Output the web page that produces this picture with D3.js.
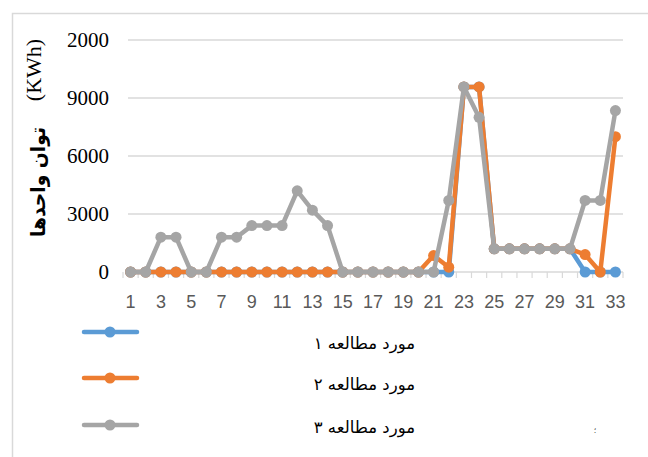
<!DOCTYPE html>
<html>
<head>
<meta charset="utf-8">
<title>Chart</title>
<style>
  body { margin: 0; background: #fff; }
  svg { display: block; }
  .serif { font-family: "Liberation Serif", "DejaVu Serif", "Times New Roman", serif; }
</style>
</head>
<body>
<svg id="chart" width="648" height="457"></svg>
<script src="https://cdn.jsdelivr.net/npm/d3@7"></script>
<script>
// categories (days 1..33)
var days = [1,2,3,4,5,6,7,8,9,10,11,12,13,14,15,16,17,18,19,20,21,22,23,24,25,26,27,28,29,30,31,32,33];

// series values
var case1 = [0,0,0,0,0,0,0,0,0,0,0,0,0,0,0,0,0,0,0,0,0,0,9570,9570,1200,1200,1200,1200,1200,1200,0,0,0];
var case2 = [0,0,0,0,0,0,0,0,0,0,0,0,0,0,0,0,0,0,0,0,850,250,9570,9570,1200,1200,1200,1200,1200,1200,900,0,7000];
var case3 = [0,0,1800,1800,0,0,1800,1800,2400,2400,2400,4200,3200,2400,0,0,0,0,0,0,0,3700,9570,8000,1200,1200,1200,1200,1200,1200,3700,3700,8350];

var seriesNames = ["مورد مطالعه ۱", "مورد مطالعه ۲", "مورد مطالعه ۳"];
var seriesColors = ["#5b9bd5", "#ed7d31", "#a5a5a5"];

var yTicks = [0, 3000, 6000, 9000, 12000];
var yTickLabels = ["0", "3000", "6000", "9000", "2000"];

var svg = d3.select("#chart");

// outer frame
svg.append("rect")
  .attr("x", 12.5).attr("y", 13.5)
  .attr("width", 700).attr("height", 500)
  .attr("fill", "none")
  .attr("stroke", "#d9d9d9")
  .attr("stroke-width", 1.5);

var x = d3.scaleBand().domain(days).range([123, 623]);
var y = d3.scaleLinear().domain([0, 12000]).range([272, 40]);

// gridlines
svg.append("g").selectAll("line")
  .data(yTicks)
  .enter().append("line")
  .attr("x1", 128).attr("x2", 623)
  .attr("y1", function (d) { return y(d) })
  .attr("y2", function (d) { return y(d) })
  .attr("stroke", "#d9d9d9")
  .attr("stroke-width", 1.5);

// x axis with category ticks
var xAxis = d3.axisBottom(x)
  .tickSize(0)
  .tickFormat(function (d) { return d % 2 === 1 ? d : "" });
var gx = svg.append("g").attr("transform", "translate(0,272)").call(xAxis);
gx.select(".domain").remove();
gx.selectAll("text")
  .attr("y", 36)
  .attr("dy", 0)
  .attr("fill", "#595959")
  .style("font-family", "'Liberation Sans', Arial, sans-serif")
  .style("font-size", "18px");

svg.append("g").selectAll("line")
  .data(d3.range(days.length + 1))
  .enter().append("line")
  .attr("x1", function (i) { return x.range()[0] + i * x.bandwidth() })
  .attr("x2", function (i) { return x.range()[0] + i * x.bandwidth() })
  .attr("y1", 272).attr("y2", 278)
  .attr("stroke", "#d9d9d9")
  .attr("stroke-width", 1.2);

// y tick labels
svg.append("g").selectAll("text")
  .data(yTicks)
  .enter().append("text")
  .attr("class", "serif")
  .attr("x", 109)
  .attr("y", function (d) { return y(d) + 7 })
  .attr("text-anchor", "end")
  .attr("fill", "#000")
  .attr("font-size", 21)
  .text(function (d, i) { return yTickLabels[i] });

// y axis title, two parts as in the original
svg.append("text")
  .attr("class", "serif")
  .attr("transform", "translate(41,70) rotate(-90)")
  .attr("text-anchor", "middle")
  .attr("fill", "#000")
  .attr("font-size", 22)
  .text("(KWh)");
svg.append("text")
  .attr("transform", "translate(45,182) rotate(-90)")
  .attr("text-anchor", "middle")
  .attr("direction", "rtl")
  .attr("fill", "#000")
  .attr("textLength", 110)
  .attr("lengthAdjust", "spacingAndGlyphs")
  .style("font-family", "'DejaVu Sans', sans-serif")
  .style("font-weight", "bold")
  .style("font-size", "20px")
  .text("توان واحدها");

// series
var allSeries = [case1, case2, case3];
var line = d3.line()
  .x(function (d, i) { return x(days[i]) + x.bandwidth() / 2 })
  .y(function (d) { return y(d) });

allSeries.forEach(function (vals, s) {
  var g = svg.append("g");
  g.append("path")
    .datum(vals)
    .attr("d", line)
    .attr("fill", "none")
    .attr("stroke", seriesColors[s])
    .attr("stroke-width", 4.5)
    .attr("stroke-linejoin", "round");
  g.selectAll("circle")
    .data(vals)
    .enter().append("circle")
    .attr("cx", function (d, i) { return x(days[i]) + x.bandwidth() / 2 })
    .attr("cy", function (d) { return y(d) })
    .attr("r", 5.5)
    .attr("fill", seriesColors[s]);
});

// legend
var legendY = [332, 378, 425];
var legend = svg.append("g").selectAll("g")
  .data(seriesNames)
  .enter().append("g")
  .attr("transform", function (d, i) { return "translate(0," + legendY[i] + ")" });
legend.append("line")
  .attr("x1", 84).attr("x2", 137)
  .attr("y1", 0).attr("y2", 0)
  .attr("stroke", function (d, i) { return seriesColors[i] })
  .attr("stroke-width", 4.5)
  .attr("stroke-linecap", "round");
legend.append("circle")
  .attr("cx", 110).attr("cy", 0).attr("r", 5.5)
  .attr("fill", function (d, i) { return seriesColors[i] });
legend.append("text")
  .attr("x", 415)
  .attr("y", function (d, i) { return [17, 12, 8][i] })
  .attr("direction", "rtl")
  .attr("text-anchor", "start")
  .attr("fill", "#000")
  .style("font-family", "'DejaVu Sans', sans-serif")
  .style("font-size", "16.5px")
  .text(function (d) { return d });

// stray mark in the original picture
svg.append("text")
  .attr("x", 595).attr("y", 433)
  .attr("text-anchor", "middle")
  .attr("fill", "#555")
  .style("font-family", "'DejaVu Sans', sans-serif")
  .style("font-size", "8px")
  .text("؛");
</script>
</body>
</html>
